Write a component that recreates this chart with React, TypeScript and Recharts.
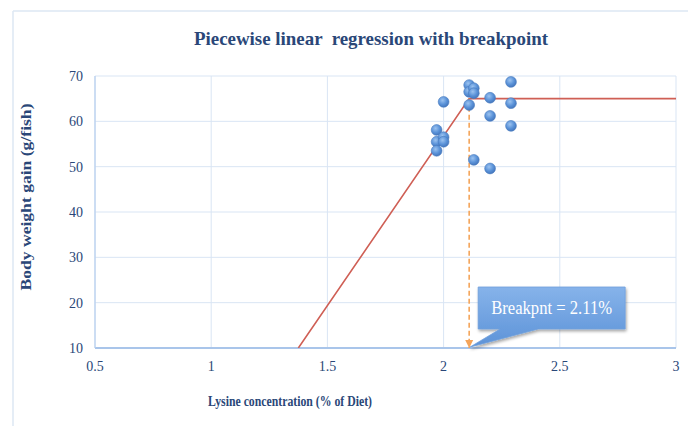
import React from 'react';
import { ComposedChart, Scatter, XAxis, YAxis, CartesianGrid, ReferenceDot, Customized } from 'recharts';

const lysine = [2.0, 2.11, 2.11, 2.13, 2.13, 2.11, 2.2, 2.2, 2.29, 2.29, 2.29, 1.97, 1.97, 2.0, 2.0, 1.97, 2.13, 2.2];
const weightGain = [64.3, 68.0, 66.5, 67.3, 66.2, 63.6, 65.2, 61.2, 68.7, 64.0, 59.0, 58.1, 55.5, 56.5, 55.5, 53.5, 51.5, 49.6];
const fitX = [1.375, 2.11, 3.0];
const fitY = [10, 65, 65];
const breakpoint = 2.11;
const plateau = 65;
const xTicks = [0.5, 1, 1.5, 2, 2.5, 3];
const yTicks = [10, 20, 30, 40, 50, 60, 70];

const points = lysine.map((x, i) => ({ x, y: weightGain[i] }));
const fitLine = fitX.map((x, i) => ({ x, y: fitY[i] }));
const dropLine = [{ x: breakpoint, y: plateau }, { x: breakpoint, y: 10 }];

const SERIF = '"Liberation Serif", "DejaVu Serif", serif';
const TEXT = '#2a4778';

const Dot = (p: any) => {
  const { cx, cy } = p;
  if (cx == null || cy == null) return null;
  return <circle cx={cx} cy={cy} r={5.4} fill="url(#dotGrad)" stroke="#4a7cc0" strokeWidth={0.6} />;
};

const ArrowShape = (p: any) => {
  const { cx, cy, payload } = p;
  if (!payload || payload.y !== 10) return null;
  return <path d={`M${cx - 4},${cy - 8} L${cx + 4},${cy - 8} L${cx},${cy} Z`} fill="#f4a45a" />;
};

const Callout = (p: any) => {
  const { cx, cy } = p;
  if (cx == null) return null;
  const bx = cx + 9;
  const by = cy - 61;
  const w = 147;
  const h = 42;
  return (
    <g>
      <path
        filter="url(#shadow)"
        d={`M${bx},${by} L${bx + w},${by} L${bx + w},${by + h} L${bx + 60},${by + h} L${cx + 1},${cy - 1} L${bx + 22},${by + h} L${bx},${by + h} Z`}
        fill="url(#boxGrad)"
        stroke="#6f9fdc"
        strokeWidth={0.8}
      />
      <text x={bx + w / 2} y={by + 27} textAnchor="middle" fill="#ffffff" fontFamily={SERIF} fontSize={18} textLength={121} lengthAdjust="spacingAndGlyphs">
        Breakpnt = 2.11%
      </text>
    </g>
  );
};

const Decor = () => (
  <g>
    <defs>
      <radialGradient id="dotGrad" cx="40%" cy="35%" r="65%">
        <stop offset="0%" stopColor="#9cc3f0" />
        <stop offset="60%" stopColor="#5a92d8" />
        <stop offset="100%" stopColor="#4577bd" />
      </radialGradient>
      <linearGradient id="boxGrad" x1="0" y1="0" x2="0" y2="1">
        <stop offset="0%" stopColor="#86b3ea" />
        <stop offset="100%" stopColor="#5d93d8" />
      </linearGradient>
      <filter id="shadow" x="-20%" y="-20%" width="140%" height="160%">
        <feDropShadow dx="1" dy="2" stdDeviation="1.5" floodColor="#000" floodOpacity="0.35" />
      </filter>
    </defs>
    <line x1={13} y1={11} x2={688} y2={11} stroke="#dde7f3" strokeWidth={1.5} />
    <line x1={13} y1={11} x2={13} y2={426} stroke="#dde7f3" strokeWidth={1.5} />
    <text x={371} y={45} textAnchor="middle" fill={TEXT} fontFamily={SERIF} fontWeight="bold" fontSize={19} textLength={354} lengthAdjust="spacingAndGlyphs" style={{ whiteSpace: 'pre' }}>
      {'Piecewise linear  regression with breakpoint'}
    </text>
    <text x={290} y={406} textAnchor="middle" fill={TEXT} fontFamily={SERIF} fontWeight="bold" fontSize={15} textLength={164} lengthAdjust="spacingAndGlyphs">
      Lysine concentration (% of Diet)
    </text>
    <text
      x={0}
      y={0}
      transform="translate(31,197) rotate(-90)"
      textAnchor="middle"
      fill={TEXT}
      fontFamily={SERIF}
      fontWeight="bold"
      fontSize={15}
      textLength={187}
      lengthAdjust="spacingAndGlyphs"
    >
      Body weight gain (g/fish)
    </text>
  </g>
);

export default function App() {
  return (
    <div style={{ position: 'absolute', left: 0, top: 0, width: 688, height: 426, background: '#fff' }}>
      <ComposedChart width={688} height={426} margin={{ top: 76, right: 12, bottom: 0, left: 0 }}>
        <Customized component={Decor} />
        <CartesianGrid stroke="#d9e5f4" strokeWidth={1} />
        <XAxis
          type="number"
          dataKey="x"
          domain={[0.5, 3]}
          ticks={xTicks}
          height={78}
          tickSize={0}
          tickMargin={13}
          tickLine={false}
          axisLine={{ stroke: '#a9c5ea', strokeWidth: 2 }}
          tick={{ fill: TEXT, fontFamily: SERIF, fontSize: 14 }}
          allowDataOverflow
        />
        <YAxis
          type="number"
          dataKey="y"
          domain={[10, 70]}
          ticks={yTicks}
          width={95}
          tickSize={0}
          tickMargin={12}
          tickLine={false}
          axisLine={{ stroke: '#b7cfee', strokeWidth: 1.2 }}
          tick={{ fill: TEXT, fontFamily: SERIF, fontSize: 14 }}
          allowDataOverflow
        />
        <Scatter data={fitLine} line={{ stroke: '#cf5f55', strokeWidth: 1.6 }} shape={() => null} isAnimationActive={false} />
        <Scatter
          data={dropLine}
          line={{ stroke: '#f4a45a', strokeWidth: 1.6, strokeDasharray: '5 3' }}
          shape={ArrowShape}
          isAnimationActive={false}
        />
        <Scatter data={points} shape={Dot} isAnimationActive={false} />
        <ReferenceDot x={breakpoint} y={10} shape={Callout} ifOverflow="visible" />
      </ComposedChart>
    </div>
  );
}
